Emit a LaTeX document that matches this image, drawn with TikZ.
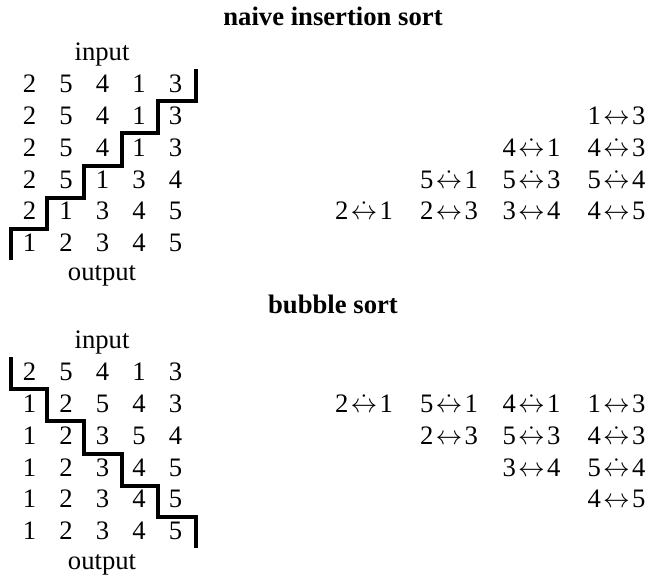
\documentclass[tikz,border=0pt]{standalone}
\usepackage{fontspec}
\setmainfont{Liberation Serif}
% a swap, and a swap that actually exchanges the two values (dotted arrow)
\newcommand\swp[2]{#1\hspace{1pt}$\leftrightarrow$\hspace{1pt}#2}
\newcommand\dswp[2]{#1\hspace{1pt}$\dot{\leftrightarrow}$\hspace{1pt}#2}
\begin{document}
\begin{tikzpicture}[x=0.45pt,y=-0.45pt,
  every node/.style={font=\fontsize{12}{14}\selectfont, inner sep=0pt, anchor=base},
  title/.style={font=\fontsize{12}{14}\selectfont\bfseries},
  stair/.style={line width=1.45pt, line join=miter}]
\useasboundingbox (0,0) rectangle (647,575);

% ---------- naive insertion sort ----------
\node[title] (t1) at (333,26) {naive insertion sort};
\node (in1) at (102,61) {input};
\foreach \row [count=\r] in {{2,5,4,1,3},{2,5,4,1,3},{2,5,4,1,3},{2,5,1,3,4},{2,1,3,4,5},{1,2,3,4,5}}{
  \foreach \d [count=\c] in \row {
    \node (a-\r-\c) at ({29.5+36.5*(\c-1)},{93+31.7*(\r-1)}) {\d};
  }
}
\node (out1) at (102,281) {output};
\draw[stair] (196,69) -- (196,101) -- (158,101) -- (158,133) -- (122,133) -- (122,166)
  -- (84,166) -- (84,198) -- (47,198) -- (47,229) -- (11,229) -- (11,260);

\node (s1-2-4) at (616.5,124.7) {\swp13};
\node (s1-3-3) at (531.5,156.4) {\dswp41};
\node (s1-3-4) at (616.5,156.4) {\dswp43};
\node (s1-4-2) at (449,188.1) {\dswp51};
\node (s1-4-3) at (531.5,188.1) {\dswp53};
\node (s1-4-4) at (616.5,188.1) {\dswp54};
\node (s1-5-1) at (364,219.8) {\dswp21};
\node (s1-5-2) at (449,219.8) {\swp23};
\node (s1-5-3) at (531.5,219.8) {\swp34};
\node (s1-5-4) at (616.5,219.8) {\swp45};

% ---------- bubble sort ----------
\node[title] (t2) at (333,314) {bubble sort};
\node (in2) at (102,349) {input};
\foreach \row [count=\r] in {{2,5,4,1,3},{1,2,5,4,3},{1,2,3,5,4},{1,2,3,4,5},{1,2,3,4,5},{1,2,3,4,5}}{
  \foreach \d [count=\c] in \row {
    \node (b-\r-\c) at ({29.5+36.5*(\c-1)},{381+31.7*(\r-1)}) {\d};
  }
}
\node (out2) at (102,569) {output};
\draw[stair] (11,357) -- (11,389) -- (47,389) -- (47,421) -- (84,421) -- (84,454)
  -- (122,454) -- (122,486) -- (158,486) -- (158,517) -- (196,517) -- (196,548);

\node (s2-2-1) at (364,412.7) {\dswp21};
\node (s2-2-2) at (449,412.7) {\dswp51};
\node (s2-2-3) at (531.5,412.7) {\dswp41};
\node (s2-2-4) at (616.5,412.7) {\swp13};
\node (s2-3-2) at (449,444.4) {\swp23};
\node (s2-3-3) at (531.5,444.4) {\dswp53};
\node (s2-3-4) at (616.5,444.4) {\dswp43};
\node (s2-4-3) at (531.5,476.1) {\swp34};
\node (s2-4-4) at (616.5,476.1) {\dswp54};
\node (s2-5-4) at (616.5,507.8) {\swp45};
\end{tikzpicture}
\end{document}
